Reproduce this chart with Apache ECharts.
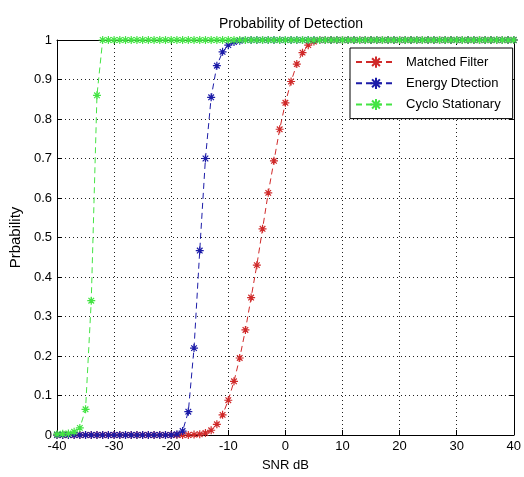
<!DOCTYPE html>
<html>
<head>
<meta charset="utf-8">
<script src="https://cdn.jsdelivr.net/npm/echarts@6/dist/echarts.min.js"></script>
<style>
  html, body { margin: 0; padding: 0; background: #fff; }
  #chart { width: 524px; height: 477px; }
</style>
</head>
<body>
<div id="chart"></div>
<script>
// SNR values (dB), one point per dB
const snrDb = [
  -40, -39, -38, -37, -36, -35, -34, -33, -32, -31, -30, -29, -28, -27, -26, -25, -24, -23, -22, -21,
  -20, -19, -18, -17, -16, -15, -14, -13, -12, -11, -10, -9, -8, -7, -6, -5, -4, -3, -2, -1,
  0, 1, 2, 3, 4, 5, 6, 7, 8, 9, 10, 11, 12, 13, 14, 15, 16, 17, 18, 19,
  20, 21, 22, 23, 24, 25, 26, 27, 28, 29, 30, 31, 32, 33, 34, 35, 36, 37, 38, 39, 40
]

// Matched Filter, -40 .. 40 dB
const matchedFilter = [
  0, 0, 0, 0, 0, 0, 0, 0, 0, 0, 0, 0, 0, 0, 0, 0, 0, 0, 0, 0,
  0, 0, 0, 0, 0.001, 0.002, 0.005, 0.012, 0.027, 0.051, 0.088, 0.136, 0.195, 0.266, 0.348, 0.43, 0.522, 0.613, 0.694, 0.774,
  0.841, 0.895, 0.939, 0.968, 0.987, 0.996, 1, 1, 1, 1, 1, 1, 1, 1, 1, 1, 1, 1, 1, 1,
  1, 1, 1, 1, 1, 1, 1, 1, 1, 1, 1, 1, 1, 1, 1, 1, 1, 1, 1, 1, 1
]

// Energy Dtection, -40 .. 40 dB
const energyDetection = [
  0, 0, 0, 0, 0, 0, 0, 0, 0, 0, 0, 0, 0, 0, 0, 0, 0, 0, 0, 0,
  0, 0.002, 0.01, 0.059, 0.22, 0.467, 0.70, 0.855, 0.935, 0.97, 0.987, 0.995, 0.998, 1, 1, 1, 1, 1, 1, 1,
  1, 1, 1, 1, 1, 1, 1, 1, 1, 1, 1, 1, 1, 1, 1, 1, 1, 1, 1, 1,
  1, 1, 1, 1, 1, 1, 1, 1, 1, 1, 1, 1, 1, 1, 1, 1, 1, 1, 1, 1, 1
]

// Cyclo Stationary, -40 .. 40 dB
const cycloStationary = [
  0.002, 0.003, 0.004, 0.008, 0.018, 0.065, 0.34, 0.86, 1, 1, 1, 1, 1, 1, 1, 1, 1, 1, 1, 1,
  1, 1, 1, 1, 1, 1, 1, 1, 1, 1, 1, 1, 1, 1, 1, 1, 1, 1, 1, 1,
  1, 1, 1, 1, 1, 1, 1, 1, 1, 1, 1, 1, 1, 1, 1, 1, 1, 1, 1, 1,
  1, 1, 1, 1, 1, 1, 1, 1, 1, 1, 1, 1, 1, 1, 1, 1, 1, 1, 1, 1, 1
]

const seriesNames = ['Matched Filter', 'Energy Dtection', 'Cyclo Stationary']
const seriesColors = ['#d02a2a', '#1c1ca8', '#44e444']
const seriesValues = [matchedFilter, energyDetection, cycloStationary]

const FONT = '"Liberation Sans", Arial, sans-serif'
// MATLAB-like asterisk marker
const STAR = 'path://M5 0L5 10M0 5L10 5M1.5 1.5L8.5 8.5M8.5 1.5L1.5 8.5'

const chart = echarts.init(document.getElementById('chart'))

const plainAxis = {
  axisLine: { show: true, onZero: false, lineStyle: { color: '#000', width: 1 } },
  axisTick: { show: true, inside: true, length: 5, lineStyle: { color: '#000' } },
  axisLabel: { color: '#000', fontFamily: FONT, fontSize: 13 },
  splitLine: { show: false }
}

const option = {
  animation: false,
  backgroundColor: '#fff',
  title: {
    text: 'Probability of Detection',
    left: 286,
    textAlign: 'center',
    top: 12,
    textStyle: { fontFamily: FONT, fontSize: 14, fontWeight: 'normal', color: '#000' }
  },
  legend: {
    orient: 'vertical',
    left: 350,
    top: 48,
    padding: [6, 12, 6, 5],
    itemWidth: 40,
    itemHeight: 14,
    itemGap: 5,
    backgroundColor: '#fff',
    borderColor: '#000',
    borderWidth: 1,
    borderRadius: 0,
    textStyle: { fontFamily: FONT, fontSize: 13, lineHeight: 14, color: '#000', padding: [0, 0, 0, 5] },
    data: seriesNames
  },
  grid: { left: 57, right: 6.5, top: 40, bottom: 39.5, containLabel: false },
  xAxis: [
    Object.assign({}, plainAxis, {
      type: 'value', min: -40, max: 40, interval: 10,
      name: 'SNR dB', nameLocation: 'middle', nameGap: 24,
      nameTextStyle: { fontFamily: FONT, fontSize: 13, color: '#000' },
      axisLabel: { color: '#000', fontFamily: FONT, fontSize: 13, margin: 5 },
      splitLine: { show: true, lineStyle: { color: '#222', type: [1, 3], width: 1 } }
    }),
    Object.assign({}, plainAxis, {
      type: 'value', min: -40, max: 40, interval: 10, position: 'top',
      axisLabel: { show: false }
    })
  ],
  yAxis: [
    Object.assign({}, plainAxis, {
      type: 'value', min: 0, max: 1, interval: 0.1,
      name: 'Prbability', nameLocation: 'middle', nameGap: 31,
      nameTextStyle: { fontFamily: FONT, fontSize: 15, color: '#000' },
      axisLabel: { color: '#000', fontFamily: FONT, fontSize: 13, margin: 5 },
      splitLine: { show: true, lineStyle: { color: '#222', type: [1, 3], width: 1 } }
    }),
    Object.assign({}, plainAxis, {
      type: 'value', min: 0, max: 1, interval: 0.1, position: 'right',
      axisLabel: { show: false }
    })
  ],
  series: seriesNames.map((name, i) => ({
    name: name,
    type: 'line',
    data: snrDb.map((x, k) => [x, seriesValues[i][k]]),
    symbol: STAR,
    symbolSize: 8,
    showAllSymbol: true,
    lineStyle: { color: seriesColors[i], width: 1, type: [6, 4] },
    itemStyle: { color: 'none', borderColor: seriesColors[i], borderWidth: 1.2 },
    z: 2 + i
  }))
}

chart.setOption(option)
</script>
</body>
</html>
